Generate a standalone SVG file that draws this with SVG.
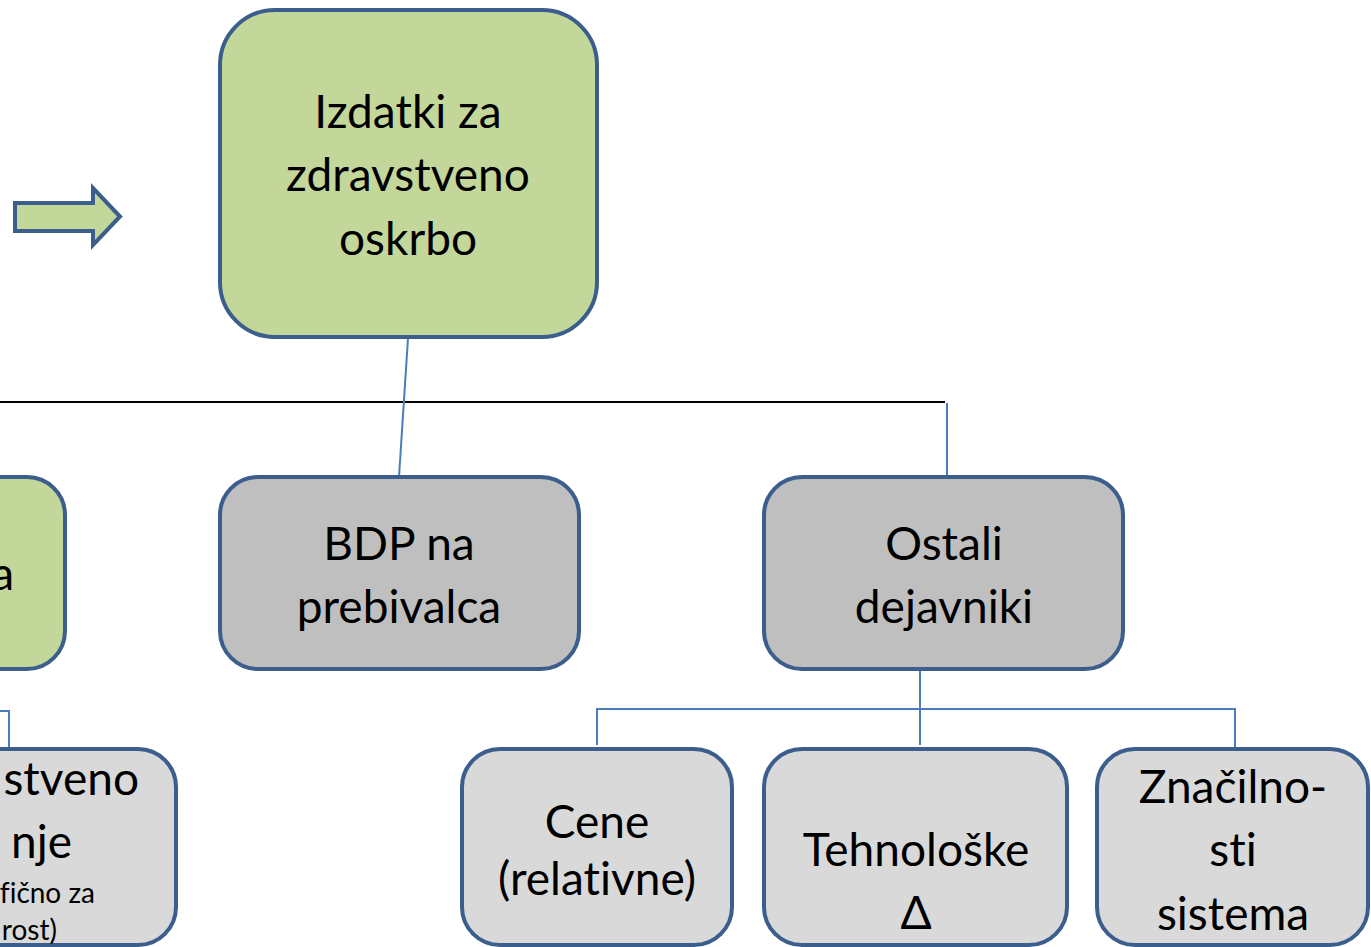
<svg xmlns="http://www.w3.org/2000/svg" width="1371" height="947" viewBox="0 0 1371 947">
<style>
.box{stroke:#3b5e8c;stroke-width:4}
.g{fill:#c4d79b}.d{fill:#bfbfbf}.l{fill:#d9d9d9}
text{font-family:Lato,"Open Sans","Liberation Sans",sans-serif;font-size:46px;fill:#000;text-anchor:middle;font-variant-ligatures:none}
.s{font-size:28px}
.e{text-anchor:end}
.c{fill:none;stroke:#4a7ebb;stroke-width:2}
</style>
<rect width="1371" height="947" fill="#fff"/>
<g id="connectors">
<line x1="0" y1="402" x2="945" y2="402" stroke="#000" stroke-width="2"/>
<line class="c" x1="408" y1="338" x2="399" y2="477"/>
<line class="c" x1="947" y1="403" x2="947" y2="477"/>
<line class="c" x1="920" y1="669" x2="920" y2="745"/>
<polyline class="c" points="597,745 597,709 1235,709 1235,749"/>
<polyline class="c" points="0,711 9,711 9,749"/>
</g>
<g id="arrow">
<polygon points="15,203 93,203 93,188 120,216.5 93,245 93,231 15,231" fill="#c4d79b" stroke="#3b5e8c" stroke-width="4"/>
</g>
<g id="n-izdatki">
<rect class="box g" x="220" y="10" width="377" height="327" rx="55"/>
<text x="408" y="128">Izdatki za</text>
<text x="408" y="191">zdravstveno</text>
<text x="408" y="255">oskrbo</text>
</g>
<g id="n-left">
<rect class="box g" x="-300" y="477" width="365" height="192" rx="38"/>
<text class="e" x="14" y="590">a</text>
</g>
<g id="n-bdp">
<rect class="box d" x="220" y="477" width="359" height="192" rx="38"/>
<text x="399" y="560">BDP na</text>
<text x="399" y="623">prebivalca</text>
</g>
<g id="n-ostali">
<rect class="box d" x="764" y="477" width="359" height="192" rx="38"/>
<text x="944" y="560">Ostali</text>
<text x="944" y="623">dejavniki</text>
</g>
<g id="n-left-bottom">
<rect class="box l" x="-200" y="749" width="376" height="196" rx="38"/>
<text class="e" x="139" y="795">stveno</text>
<text class="e" x="72" y="858">nje</text>
<text class="s e" x="95" y="903">fično za</text>
<text class="s e" x="57" y="940">rost)</text>
</g>
<g id="n-cene">
<rect class="box l" x="462" y="749" width="270" height="196" rx="38"/>
<text x="597" y="838">Cene</text>
<text x="597" y="895">(relativne)</text>
</g>
<g id="n-tehno">
<rect class="box l" x="764" y="749" width="303" height="196" rx="38"/>
<text x="916" y="866">Tehnološke</text>
<text x="916" y="929">Δ</text>
</g>
<g id="n-znac">
<rect class="box l" x="1097" y="749" width="271" height="196" rx="38"/>
<text x="1233" y="803">Značilno-</text>
<text x="1233" y="866">sti</text>
<text x="1233" y="930">sistema</text>
</g>
</svg>
